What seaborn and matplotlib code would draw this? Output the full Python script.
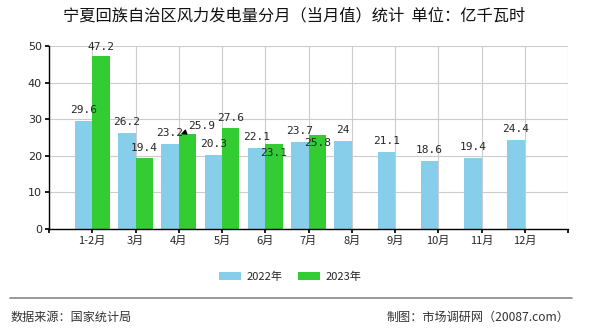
import matplotlib
matplotlib.use("Agg")
import matplotlib.pyplot as plt
import seaborn as sns
import pandas as pd
from matplotlib.patches import Patch

months = ["1-2月", "3月", "4月", "5月", "6月", "7月", "8月", "9月", "10月", "11月", "12月"]
values_2022 = [29.6, 26.2, 23.2, 20.3, 22.1, 23.7, 24, 21.1, 18.6, 19.4, 24.4]
values_2023 = [47.2, 19.4, 25.9, 27.6, 23.1, 25.8]
series = ["2022年", "2023年"]
colors = ["#87CEEB", "#33CC33"]

sns.set_theme(style="white")
plt.rcParams["font.family"] = ["Noto Sans CJK SC", "DejaVu Sans"]

rows = []
for i, m in enumerate(months):
    rows.append({"月份": m, "年份": series[0], "值": values_2022[i]})
for i, v in enumerate(values_2023):
    rows.append({"月份": months[i], "年份": series[1], "值": v})
df = pd.DataFrame(rows)

fig = plt.figure(figsize=(5.9, 3.3), dpi=100)
ax = fig.add_axes([49 / 590, 1 - 229 / 330, 519 / 590, 183 / 330])

# position 0 is an empty slot so the months sit on ticks 1..11
order = [""] + months
df["月份"] = pd.Categorical(df["月份"], categories=order)
sns.barplot(data=df, x="月份", y="值", hue="年份", order=order,
            hue_order=series, palette=colors, width=0.8, gap=0, ax=ax,
            saturation=1, legend=False, linewidth=0, edgecolor="none")

ax.set_xlim(0, 12)
ax.set_ylim(0, 50)
ax.set_xticks(range(13))
ax.set_xticklabels([""] + months + [""], fontsize=8)
ax.set_yticks(range(0, 51, 10))
ax.set_yticklabels([str(v) for v in range(0, 51, 10)], fontsize=8,
                   family="DejaVu Sans")
ax.set_xlabel("")
ax.set_ylabel("")
ax.grid(True, color="#cccccc", linewidth=0.8)
ax.set_axisbelow(True)
for s in ["top", "right"]:
    ax.spines[s].set_visible(False)
for s in ["left", "bottom"]:
    ax.spines[s].set_color("black")
    ax.spines[s].set_linewidth(1)
ax.tick_params(axis="both", which="both", length=3, color="black",
               direction="out", bottom=True, left=True, pad=2)

# value labels
lab = dict(fontsize=8, family="DejaVu Sans Mono", ha="center", va="center")
for i, v in enumerate(values_2022):
    ax.annotate(f"{v:g}", (i + 1 - 0.2, v), xytext=(0, 8),
                textcoords="offset points", **lab)
for i, v in enumerate(values_2023):
    x = i + 1 + 0.2
    if months[i] in ("6月", "7月"):
        ax.annotate(f"{v:g}", (x, v), xytext=(0, -6),
                    textcoords="offset points", **lab)
    elif months[i] == "4月":
        ax.annotate(f"{v:g}", (x - 0.15, v), xytext=(15, 6),
                    textcoords="offset points",
                    arrowprops=dict(arrowstyle="-|>", color="black",
                                    lw=0.8, shrinkA=6, shrinkB=0), **lab)
    else:
        ax.annotate(f"{v:g}", (x, v), xytext=(0, 7),
                    textcoords="offset points", **lab)

# title
fig.text(294 / 590, 1 - 16 / 330, "宁夏回族自治区风力发电量分月（当月值）统计  单位：亿千瓦时",
         ha="center", va="center", fontsize=11.7, color="#111111")

# legend
handles = [Patch(facecolor=c, edgecolor="none") for c in colors]
fig.legend(handles, series, loc="center", bbox_to_anchor=(290 / 590, 1 - 277 / 330),
           ncol=2, frameon=False, fontsize=8, handlelength=2.0,
           handleheight=0.75, columnspacing=1.4, handletextpad=0.45)

# footer
fig.add_artist(plt.Line2D([10 / 590, 572 / 590], [1 - 298 / 330] * 2,
                          color="#888888", linewidth=1.2))
fig.text(11 / 590, 1 - 317 / 330, "数据来源：国家统计局", ha="left",
         va="center", fontsize=8.7, color="#333333")
fig.text(569 / 590, 1 - 317 / 330, "制图：市场调研网（20087.com）", ha="right",
         va="center", fontsize=8.7, color="#333333")

fig.savefig("out.png", dpi=100)
